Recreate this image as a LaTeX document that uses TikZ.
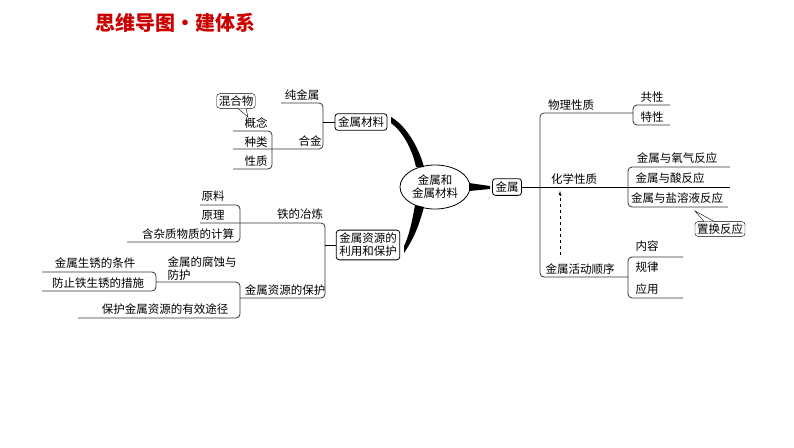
\documentclass[tikz,border=0pt]{standalone}
\usepackage{fontspec}
\setmainfont{Noto Sans CJK SC}
\usetikzlibrary{shapes.geometric}

\tikzset{
  lbl/.style={inner sep=1pt,font=\fontsize{11.5}{13}\selectfont},
  boxed/.style={lbl,draw,rounded corners=3pt,inner sep=3pt,thick},
  brk/.style={rounded corners=4pt,thick,draw=black!80},
}

\begin{document}
\begin{tikzpicture}[x=1pt,y=-1pt]
\useasboundingbox (0,0) rectangle (794,447);
% title
\node[text=red!80!black,font=\fontsize{20}{22}\selectfont\bfseries] (title) at (175,23) {思维导图·建体系};

% centre
\node[ellipse,draw,thick,lbl,inner sep=0pt,minimum width=70,minimum height=44,align=center] (root) at (435,187) {金属和\\金属材料};
\node[boxed] (mat) at (361,122) {金属材料};
\node[boxed,align=center] (res) at (368,245) {金属资源的\\利用和保护};
\node[boxed] (met) at (507,187) {金属};
\fill (391,117) .. controls (405,125) and (418,145) .. (424,167) -- (416,167) .. controls (412,148) and (402,131) .. (391,123) -- cycle;
\fill (424,207) .. controls (419,226) and (413,240) .. (404,253) -- (404,246) .. controls (409,236) and (412,222) .. (415,205) -- cycle;
\fill (469,183) -- (490,186) -- (490,189) -- (469,191) -- cycle;

% metal materials
\node[lbl] (pure) at (302,95) {纯金属};
\node[lbl] (alloy) at (310,141) {合金};
\draw[brk] (281,103) -- (323,103) -- (323,149) -- (233,149);
\draw[thick] (323,122) -- (mat.west);
\node[lbl] (idea) at (256,123) {概念};
\node[lbl] (kind) at (256,142) {种类};
\node[lbl] (prop) at (256,161) {性质};
\draw[brk] (233,131) -- (272,131) -- (272,169) -- (233,169);
\node[boxed,thin,inner sep=2pt] (mix) at (236,101) {混合物};
\draw[thin,fill=white] ([xshift=2]mix.south) -- (248,117) -- ([xshift=10]mix.south);

% metal resources
\node[lbl] (smelt) at (300,214) {铁的冶炼};
\node[lbl] (protect) at (285,290) {金属资源的保护};
\draw[brk] (200,223) -- (325,223) -- (325,298) -- (240,298);
\draw[thick] (325,245) -- (res.west);
\node[lbl] (raw) at (213,196) {原料};
\node[lbl] (princ) at (213,215) {原理};
\node[lbl] (calc) at (188,234) {含杂质物质的计算};
\draw[brk] (200,205) -- (240,205) -- (240,242) -- (127,242);
\node[lbl,align=left] (corr) at (202,269) {金属的腐蚀与\\防护};
\draw[brk] (156,282) -- (240,282) -- (240,318) -- (78,318);
\node[lbl] (way) at (165,309) {保护金属资源的有效途径};
\node[lbl] (cond) at (95,263) {金属生锈的条件};
\node[lbl] (stop) at (98,283) {防止铁生锈的措施};
\draw[brk] (42,272) -- (156,272) -- (156,291) -- (42,291);

% metals
\draw[thick] (met.east) -- (540,187);
\node[lbl] (phys) at (571,105) {物理性质};
\node[lbl] (chem) at (574,179) {化学性质};
\node[lbl] (order) at (580,269) {金属活动顺序};
\draw[brk] (633,113) -- (540,113) -- (540,277) -- (628,277);
\draw[thick] (540,187) -- (730,187);
\node[lbl] (common) at (652,97) {共性};
\node[lbl] (special) at (652,117) {特性};
\draw[brk] (670,105) -- (633,105) -- (633,125) -- (670,125);
\node[lbl] (oxy) at (677,158) {金属与氧气反应};
\node[lbl] (acid) at (670,178) {金属与酸反应};
\node[lbl] (salt) at (677,198) {金属与盐溶液反应};
\draw[brk] (730,167) -- (628,167) -- (628,207) -- (728,207);
\node[boxed,thin,inner sep=2pt] (swap) at (720,229) {置换反应};
\draw[thin,fill=white] ([xshift=-16]swap.north) -- (695,211) -- ([xshift=-6]swap.north);
\node[lbl] (cont) at (647,246) {内容};
\node[lbl] (rule) at (647,267) {规律};
\node[lbl] (use) at (647,289) {应用};
\draw[brk] (683,257) -- (628,257) -- (628,298) -- (683,298);
\draw[thin,dashed,-latex] (560,255) -- (560,191);
\end{tikzpicture}
\end{document}
